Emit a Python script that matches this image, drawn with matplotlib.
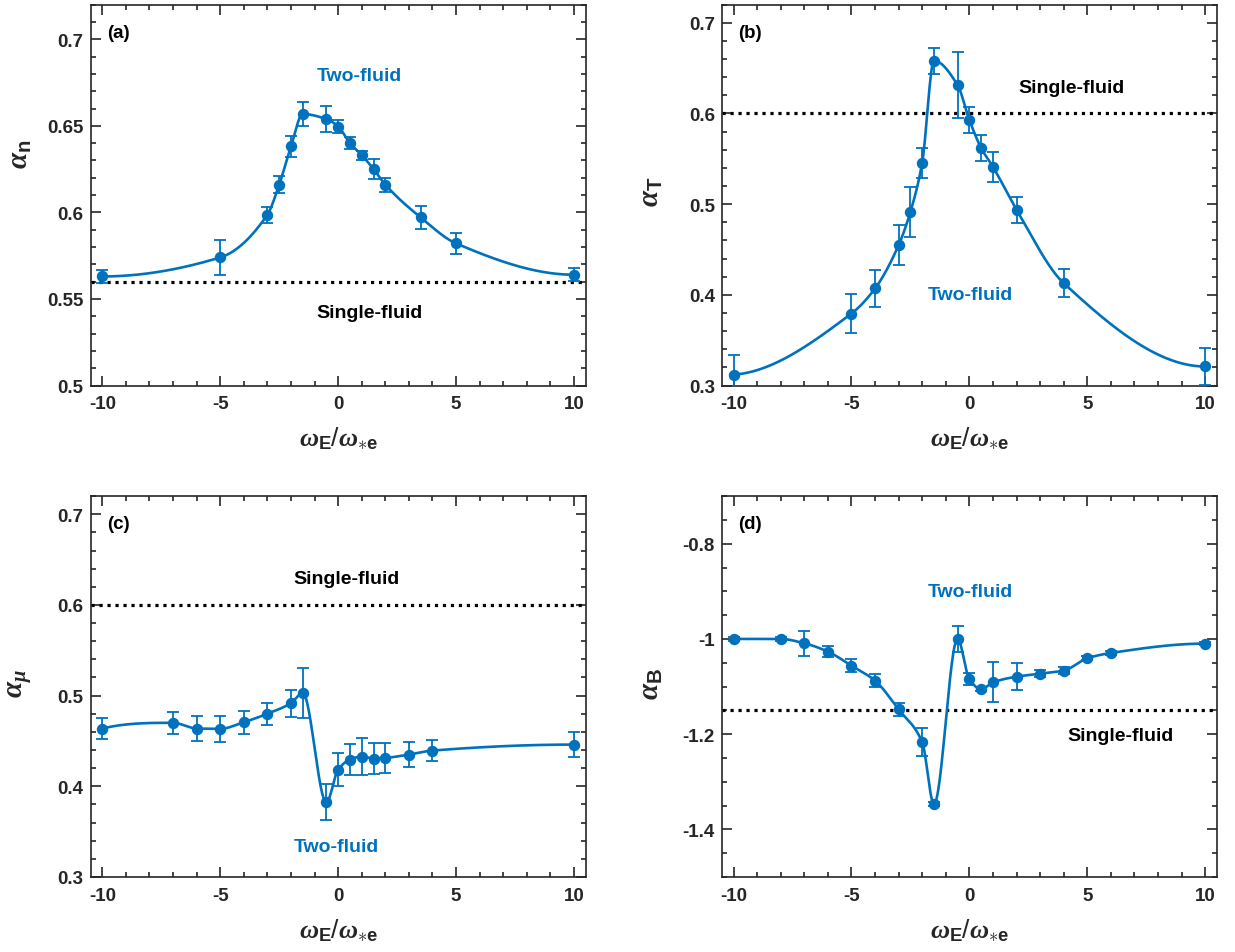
import numpy as np
import matplotlib
matplotlib.use("Agg")
import matplotlib.pyplot as plt
from matplotlib.ticker import MultipleLocator

plt.rcParams['font.family'] = ['Liberation Sans', 'DejaVu Sans']
plt.rcParams['font.weight'] = 'bold'
plt.rcParams['axes.unicode_minus'] = False
plt.rcParams['mathtext.fontset'] = 'custom'
plt.rcParams['mathtext.it'] = 'Liberation Serif:italic:bold'
plt.rcParams['mathtext.bf'] = 'Liberation Sans:bold'
plt.rcParams['mathtext.rm'] = 'Liberation Sans:weight=normal'

BLUE = '#0072BD'
DARK = '#262626'

# (a) density exponent
wa = [-10, -5, -3, -2.5, -2, -1.5, -0.5, 0, 0.5, 1, 1.5, 2, 3.5, 5, 10]
alpha_n = [0.563, 0.574, 0.5987, 0.616, 0.6381, 0.6568, 0.6539, 0.6496,
           0.640, 0.6331, 0.625, 0.616, 0.5971, 0.5821, 0.564]
err_n = [0.0039, 0.010, 0.0047, 0.005, 0.0059, 0.0069, 0.0075, 0.0035,
         0.0034, 0.0026, 0.0056, 0.0041, 0.0065, 0.0062, 0.0037]
single_n = 0.56

# (b) temperature exponent
wb = [-10, -5, -4, -3, -2.5, -2, -1.5, -0.5, 0, 0.5, 1, 2, 4, 10]
alpha_T = [0.312, 0.3794, 0.407, 0.4548, 0.4915, 0.5456, 0.6581, 0.6313,
           0.593, 0.5618, 0.5412, 0.4938, 0.4129, 0.321]
err_T = [0.022, 0.0215, 0.0208, 0.022, 0.0276, 0.0165, 0.0142, 0.0364,
         0.0143, 0.014, 0.0164, 0.0145, 0.0153, 0.02]
single_T = 0.6

# (c) viscosity exponent
wc = [-10, -7, -6, -5, -4, -3, -2, -1.5, -0.5, 0, 0.5, 1, 1.5, 2, 3, 4, 10]
alpha_mu = [0.4637, 0.470, 0.4637, 0.4634, 0.4707, 0.480, 0.4917, 0.5028,
            0.3823, 0.4184, 0.4295, 0.4328, 0.4306, 0.4313, 0.435, 0.4394, 0.446]
err_mu = [0.012, 0.0123, 0.0138, 0.014, 0.0125, 0.012, 0.015, 0.0276,
          0.0197, 0.0186, 0.0175, 0.0208, 0.0173, 0.0162, 0.0133, 0.012, 0.014]
single_mu = 0.6

# (d) magnetic field exponent
wd = [-10, -8, -7, -6, -5, -4, -3, -2, -1.5, -0.5, 0, 0.5, 1, 2, 3, 4, 5, 6, 10]
alpha_B = [-1.0, -1.0, -1.0091, -1.0267, -1.0561, -1.0877, -1.1481, -1.2168,
           -1.347, -1.0, -1.0842, -1.106, -1.0912, -1.0793, -1.073, -1.0667,
           -1.0407, -1.0295, -1.0098]
err_B = [0.004, 0.004, 0.0267, 0.012, 0.0137, 0.013, 0.0144, 0.03, 0.004,
         0.027, 0.0123, 0.004, 0.042, 0.029, 0.007, 0.007, 0.004, 0.004, 0.004]
single_B = -1.15


def pchip(x, y, xs):
    # shape-preserving piecewise cubic through the measured points
    x = np.asarray(x, float)
    y = np.asarray(y, float)
    h = np.diff(x)
    d = np.diff(y) / h
    n = len(x)
    m = np.zeros(n)
    for k in range(1, n - 1):
        if d[k - 1] * d[k] > 0:
            w1 = 2 * h[k] + h[k - 1]
            w2 = h[k] + 2 * h[k - 1]
            m[k] = (w1 + w2) / (w1 / d[k - 1] + w2 / d[k])

    def end_slope(h0, h1, d0, d1):
        s = ((2 * h0 + h1) * d0 - h0 * d1) / (h0 + h1)
        if np.sign(s) != np.sign(d0):
            s = 0.0
        elif np.sign(d0) != np.sign(d1) and abs(s) > abs(3 * d0):
            s = 3 * d0
        return s

    m[0] = end_slope(h[0], h[1], d[0], d[1])
    m[-1] = end_slope(h[-1], h[-2], d[-1], d[-2])
    idx = np.clip(np.searchsorted(x, xs) - 1, 0, n - 2)
    t = (xs - x[idx]) / h[idx]
    h00 = 2 * t**3 - 3 * t**2 + 1
    h10 = t**3 - 2 * t**2 + t
    h01 = -2 * t**3 + 3 * t**2
    h11 = t**3 - t**2
    return (h00 * y[idx] + h10 * h[idx] * m[idx]
            + h01 * y[idx + 1] + h11 * h[idx] * m[idx + 1])


panels = [
    dict(x=wa, y=alpha_n, e=err_n, s=single_n, tag='(a)',
         ylab=r'$\mathit{\alpha}_{\mathbf{n}}$', ylim=(0.5, 0.72), major=0.05, minor=0.01,
         ylab_y=0.61, two=(0.9, 0.679), one=(1.35, 0.542)),
    dict(x=wb, y=alpha_T, e=err_T, s=single_T, tag='(b)',
         ylab=r'$\mathit{\alpha}_{\mathbf{T}}$', ylim=(0.3, 0.72), major=0.1, minor=0.02,
         ylab_y=0.51, two=(0.06, 0.40), one=(4.35, 0.629)),
    dict(x=wc, y=alpha_mu, e=err_mu, s=single_mu, tag='(c)',
         ylab=r'$\mathit{\alpha}_{\mathit{\mu}}$', ylim=(0.3, 0.72), major=0.1, minor=0.02,
         ylab_y=0.51, two=(-0.08, 0.334), one=(0.34, 0.629)),
    dict(x=wd, y=alpha_B, e=err_B, s=single_B, tag='(d)',
         ylab=r'$\mathit{\alpha}_{\mathbf{B}}$', ylim=(-1.5, -0.7), major=0.2, minor=0.05,
         ylab_y=0.51, two=(0.06, -0.901), one=(6.4, -1.202)),
]

fig = plt.figure(figsize=(12.35, 9.53), dpi=100)
boxes = [(0.0733, 0.5944), (0.5844, 0.5944), (0.0733, 0.0787), (0.5844, 0.0787)]

for p, (left, bottom) in zip(panels, boxes):
    ax = fig.add_axes([left, bottom, 0.401, 0.3997])
    xs = np.linspace(min(p['x']), max(p['x']), 600)
    ax.plot([-10.5, 10.5], [p['s'], p['s']], color='black', lw=2.3,
            linestyle=(0, (1, 1.5)), zorder=2)
    ax.errorbar(p['x'], p['y'], yerr=p['e'], fmt='none', ecolor=BLUE,
                elinewidth=1.3, capsize=4.5, capthick=1.3, zorder=3)
    ax.plot(xs, pchip(p['x'], p['y'], xs), color=BLUE, lw=1.9, zorder=4)
    ax.plot(p['x'], p['y'], 'o', color=BLUE, ms=7.2, zorder=5)

    ax.set_xlim(-10.5, 10.5)
    ax.set_ylim(*p['ylim'])
    ax.xaxis.set_major_locator(MultipleLocator(5))
    ax.xaxis.set_minor_locator(MultipleLocator(1))
    ax.yaxis.set_major_locator(MultipleLocator(p['major']))
    ax.yaxis.set_minor_locator(MultipleLocator(p['minor']))
    ax.yaxis.set_major_formatter(plt.FormatStrFormatter('%g'))
    ax.tick_params(which='both', direction='in', top=True, right=True,
                   color=DARK, width=1.2, labelsize=13.5, labelcolor=DARK)
    ax.tick_params(which='major', length=7)
    ax.tick_params(which='minor', length=3.5)
    ax.tick_params(axis='x', pad=7)
    ax.tick_params(axis='y', pad=5)
    for sp in ax.spines.values():
        sp.set_color(DARK)
        sp.set_linewidth(1.2)

    ax.set_xlabel(r'$\mathit{\omega}_{\mathbf{E}}/\mathit{\omega}_{\ast\mathbf{e}}$',
                  fontsize=19, color=DARK, labelpad=9)
    ax.set_ylabel(p['ylab'], fontsize=21, color=DARK)
    ax.yaxis.set_label_coords(-0.115, p['ylab_y'])

    ax.text(0.033, 0.928, p['tag'], transform=ax.transAxes, fontsize=13.5,
            fontweight='bold', va='center', ha='left')
    ax.text(*p['two'], 'Two-fluid', color=BLUE, fontsize=14, fontweight='bold',
            ha='center', va='center')
    ax.text(*p['one'], 'Single-fluid', color='black', fontsize=14,
            fontweight='bold', ha='center', va='center')

fig.savefig('out.png', dpi=100)
